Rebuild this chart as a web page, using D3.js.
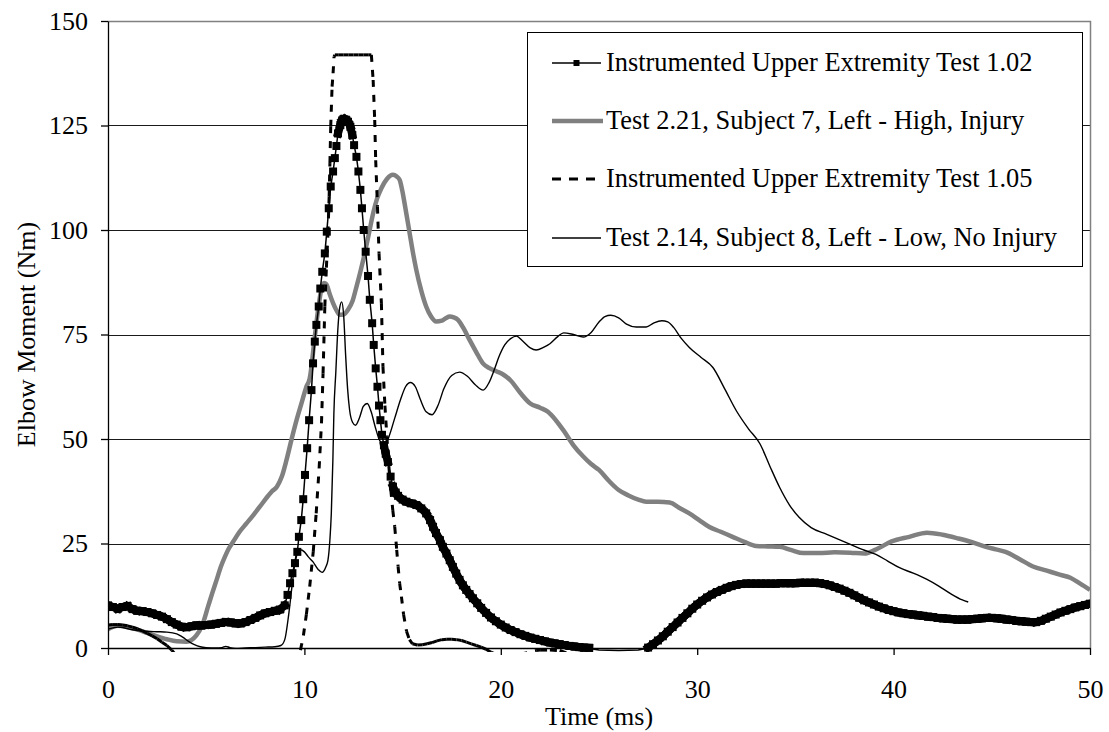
<!DOCTYPE html>
<html><head><meta charset="utf-8">
<script src="https://cdn.jsdelivr.net/npm/d3@7"></script>
<style>html,body{margin:0;padding:0;background:#fff;} svg{display:block;}</style>
</head><body>
<svg id="chart" width="1109" height="732"></svg>
<script>
// ---------- data ----------
const xTicks = [0, 10, 20, 30, 40, 50];
const yTicks = [0, 25, 50, 75, 100, 125, 150];
const xTitle = "Time (ms)";
const yTitle = "Elbow Moment (Nm)";
const seriesNames = [
  "Instrumented Upper Extremity Test 1.02",
  "Test 2.21, Subject 7, Left - High, Injury",
  "Instrumented Upper Extremity Test 1.05",
  "Test 2.14, Subject 8, Left - Low, No Injury"
];
// [time (ms), moment (Nm)]
const test102 = [[0,10.2],[0.25,9.8],[0.5,9.4],[0.75,9.8],[1,10.0],[1.25,9.3],[1.5,8.9],[1.75,8.8],[2,8.6],[2.25,8.3],[2.5,7.9],[2.75,7.5],[3,6.9],[3.25,6.2],[3.5,5.6],[3.75,5.1],[4,5.0],[4.25,5.2],[4.5,5.4],[4.75,5.4],[5,5.5],[5.25,5.6],[5.5,5.8],[5.75,6.0],[6,6.2],[6.25,6.1],[6.5,5.9],[6.75,5.9],[7,6.2],[7.25,6.7],[7.5,7.2],[7.75,7.8],[8,8.3],[8.25,8.6],[8.5,8.9],[8.75,9.2],[9,10.2],[9.14,12.7],[9.27,15.5],[9.39,17.9],[9.52,20.3],[9.64,23],[9.72,26.6],[9.84,30.6],[9.94,35.6],[10.03,41.4],[10.14,47.8],[10.24,54.5],[10.36,61.7],[10.44,68.1],[10.53,73.3],[10.61,77.3],[10.73,81.7],[10.81,86],[10.91,90],[11.04,94.4],[11.14,99.6],[11.24,105.2],[11.34,110.4],[11.46,114],[11.55,117.2],[11.63,120.1],[11.71,123.1],[11.83,125.1],[11.92,126.2],[12,126.5],[12.1,126.4],[12.22,125.9],[12.34,124.7],[12.44,122.7],[12.53,120.3],[12.65,117.5],[12.75,114],[12.85,109.6],[12.93,105.2],[13.02,100],[13.12,94.8],[13.24,89],[13.33,83.3],[13.45,77.7],[13.53,72.5],[13.63,66.9],[13.72,62.5],[13.8,58],[13.87,54.5],[13.95,51],[14.05,48.5],[14.14,46.5],[14.25,44.5],[14.39,41],[14.51,38.6],[14.65,37.2],[14.77,36.4],[15,35.5],[15.19,35],[15.45,34.6],[15.7,34.2],[15.95,33.4],[16.2,32.2],[16.4,30.6],[16.55,29],[16.7,27.5],[16.9,25.8],[17.05,24.2],[17.23,22.6],[17.4,21],[17.56,19.4],[17.73,17.8],[17.9,16.3],[18.07,15],[18.24,13.9],[18.41,12.9],[18.58,11.9],[18.8,10.7],[19,9.6],[19.25,8.4],[19.5,7.3],[19.75,6.4],[20,5.6],[20.25,4.9],[20.5,4.3],[20.75,3.8],[21,3.3],[21.25,2.9],[21.5,2.5],[21.75,2.2],[22,1.9],[22.25,1.6],[22.5,1.3],[22.75,1.1],[23,0.9],[23.25,0.7],[23.5,0.5],[23.75,0.35],[24,0.2],[24.25,0.1],[24.5,0.05],[24.75,-0.3],[25,-0.5],[26,-0.6],[27,-0.5],[27.4,-0.1],[27.5,0.1],[27.75,0.9],[28,1.8],[28.25,2.8],[28.5,3.9],[28.75,5.0],[29,6.1],[29.25,7.2],[29.5,8.3],[29.75,9.4],[30,10.4],[30.25,11.3],[30.5,12.1],[30.75,12.8],[31,13.4],[31.25,13.9],[31.5,14.4],[31.75,14.8],[32,15.1],[32.25,15.3],[32.5,15.4],[32.75,15.4],[33,15.4],[33.25,15.4],[33.5,15.4],[33.75,15.4],[34,15.4],[34.25,15.5],[34.5,15.5],[34.75,15.5],[35,15.5],[35.25,15.6],[35.5,15.6],[35.75,15.6],[36,15.6],[36.25,15.5],[36.5,15.3],[36.75,15.0],[37,14.6],[37.25,14.2],[37.5,13.7],[37.75,13.2],[38,12.6],[38.25,12.0],[38.5,11.4],[38.75,10.9],[39,10.4],[39.25,9.9],[39.5,9.5],[39.75,9.1],[40,8.8],[40.25,8.5],[40.5,8.3],[40.75,8.1],[41,8.0],[41.25,7.8],[41.5,7.7],[41.75,7.5],[42,7.4],[42.25,7.2],[42.5,7.1],[42.75,7.0],[43,6.9],[43.25,6.8],[43.5,6.8],[43.75,6.8],[44,6.9],[44.25,7.0],[44.5,7.1],[44.75,7.2],[45,7.2],[45.25,7.1],[45.5,7.0],[45.75,6.8],[46,6.7],[46.25,6.5],[46.5,6.4],[46.75,6.3],[47,6.2],[47.25,6.2],[47.5,6.5],[47.75,7.0],[48,7.5],[48.25,8.0],[48.5,8.5],[48.75,8.9],[49,9.3],[49.25,9.7],[49.5,10.0],[49.75,10.3],[50,10.6]];
const test221 = [[0,4.5],[0.5,5.3],[1,5.0],[1.5,4.4],[2,3.6],[2.5,2.8],[3,2.1],[3.5,1.6],[4,1.5],[4.5,3.0],[4.8,5.5],[5.1,10],[5.3,13],[5.53,16.3],[5.75,19.5],[5.95,21.8],[6.15,23.8],[6.37,25.4],[6.7,27.8],[7.05,29.8],[7.4,31.8],[7.73,33.8],[8.05,35.8],[8.33,37.4],[8.6,38.6],[8.85,41],[9.09,45],[9.34,49.8],[9.6,54.5],[9.85,58.5],[10.1,62.5],[10.27,64.5],[10.53,74.5],[10.7,81],[10.87,86],[11,87.3],[11.12,87],[11.3,84.5],[11.46,82.5],[11.63,80.8],[11.8,79.7],[12,79.8],[12.22,80.9],[12.45,83],[12.65,86.4],[12.85,90],[13.07,94.4],[13.3,99.5],[13.5,104],[13.7,107.5],[13.92,110],[14.2,112.2],[14.51,113.2],[14.7,112.8],[14.85,112],[14.98,109.5],[15.1,106.4],[15.36,99.2],[15.55,94],[15.7,90.4],[15.95,85.5],[16.2,81.7],[16.45,79.3],[16.71,78.1],[17,78.3],[17.2,78.9],[17.4,79.3],[17.6,79.1],[17.82,78.5],[18.1,76.5],[18.41,73.7],[18.75,70.8],[19.09,68.1],[19.4,67],[19.77,66.2],[20.1,65.5],[20.5,64],[21,61],[21.5,58.5],[22,57.5],[22.4,56.5],[22.8,54.5],[23.2,52],[23.7,48.5],[24.2,45.8],[24.6,44],[25,42.6],[25.5,40],[26,37.8],[26.5,36.5],[27,35.5],[27.4,35],[28,35],[28.6,34.8],[29.1,33.5],[29.6,32.2],[30.1,30.6],[30.6,29],[31.2,27.8],[31.8,26.6],[32.4,25.4],[33,24.4],[33.6,24.3],[34.2,24.2],[34.8,23.4],[35.4,22.7],[36.2,22.7],[37,22.9],[37.8,22.8],[38.5,22.6],[39.2,23.8],[39.9,25.5],[40.8,26.6],[41.7,27.6],[42.5,27.1],[43.3,26.2],[44,25.3],[44.7,24.2],[45.2,23.6],[45.7,23.0],[46.4,21.3],[47.1,19.5],[47.8,18.5],[48.5,17.5],[49,16.8],[49.5,15.4],[50,13.9]];
const test105 = [[0,5.5],[0.25,5.6],[0.5,5.6],[0.75,5.5],[1,5.3],[1.25,5.0],[1.5,4.6],[1.75,4.1],[2,3.5],[2.25,2.9],[2.5,2.2],[2.75,1.4],[3,0.6],[3.25,-0.5],[3.5,-2],[4,-4],[6,-6],[8,-5],[9.5,-3],[9.8,-0.5],[9.95,3],[10.1,8],[10.27,14.7],[10.45,23],[10.6,32.2],[10.75,43],[10.87,53.8],[10.95,65.7],[11.04,81.7],[11.12,91],[11.2,99.2],[11.26,108],[11.3,116],[11.34,124.7],[11.41,134.3],[11.46,137.5],[11.51,141.5],[11.55,141.9],[11.75,141.9],[12,141.9],[12.25,141.9],[12.5,141.9],[12.75,141.9],[13,141.9],[13.25,141.9],[13.41,141.9],[13.5,135.9],[13.58,126.3],[13.63,116.7],[13.72,105.6],[13.8,94.4],[13.92,82.5],[14,67.3],[14.1,58],[14.2,50.5],[14.3,43.5],[14.4,37.8],[14.5,33],[14.6,29],[14.7,23.5],[14.77,19.5],[14.85,15.5],[14.94,12.3],[15.05,8],[15.2,4],[15.35,2],[15.5,1],[15.75,0.7],[16,0.8],[16.25,1],[16.5,1.3],[16.75,1.7],[17,2.0],[17.25,2.1],[17.5,2.1],[17.75,2.0],[18,1.8],[18.25,1.4],[18.5,1.0],[18.75,0.6],[19,0.2],[19.25,-0.3],[19.5,-1],[20,-2],[21,-1.5],[21.8,-0.6],[22,-0.5],[22.5,-0.5],[23,-0.6],[23.5,-1.5],[24,-3],[30,-5],[40,-5],[50,-5]];
const test214 = [[0,4.5],[0.25,4.8],[0.5,5.0],[0.75,4.9],[1,4.6],[1.5,4.2],[2,4.0],[2.5,3.9],[3,3.8],[3.5,3.4],[3.8,2.6],[4.1,1.6],[4.4,0.8],[4.7,0.3],[5,0.1],[5.5,0.0],[5.8,0.1],[6,0.4],[6.2,0.1],[6.5,-0.1],[7,0.0],[7.5,0.1],[8,0.2],[8.5,0.3],[8.8,0.6],[9,2],[9.2,8],[9.4,16],[9.6,22.6],[9.8,23.5],[10,23.0],[10.2,21.8],[10.44,20.6],[10.7,18.8],[10.9,18.1],[11.1,19.5],[11.2,21.0],[11.3,26],[11.37,32.2],[11.45,45],[11.5,56],[11.6,66],[11.7,76],[11.8,81.5],[11.9,82.8],[12,79.5],[12.1,70],[12.2,62],[12.3,57],[12.45,54],[12.6,53.3],[12.8,55],[13,57.8],[13.2,58.5],[13.4,56.5],[13.6,53],[13.85,49.5],[14.1,48.6],[14.3,50.5],[14.6,55],[14.9,59.5],[15.15,62.5],[15.4,63.5],[15.65,62.5],[15.9,59.5],[16.2,56.5],[16.5,55.8],[16.8,58],[17.1,62],[17.5,65.2],[17.9,66],[18.3,65],[18.7,63],[19.1,61.7],[19.4,63.5],[19.7,67],[19.9,69.6],[20.2,72.5],[20.5,74],[20.8,74.6],[21.1,73.5],[21.5,71.8],[21.8,71.3],[22.2,72],[22.5,72.8],[22.9,74.5],[23.2,75.4],[23.7,75],[24.2,74.4],[24.6,75.5],[25,78],[25.3,79.3],[25.6,79.6],[26,79],[26.4,77.5],[26.9,76.8],[27.4,76.8],[27.8,77.8],[28.2,78.3],[28.5,78],[28.8,76.7],[29.2,74],[29.6,71.9],[30.2,69.5],[30.8,67.1],[31.4,62],[32,56.7],[32.6,52.5],[33.2,48.8],[33.7,43.5],[34.2,38.4],[34.7,34.2],[35.2,31.2],[35.8,28.8],[36.6,27.2],[37.2,26],[37.8,24.8],[38.4,23.6],[39.1,22.4],[39.7,20.8],[40.3,19.2],[41,17.9],[41.7,16.4],[42.3,14.8],[42.9,13],[43.5,11.5],[43.8,11.0]];

// ---------- chart ----------
const FONT = '"Liberation Serif","Times New Roman",Times,serif';
const FS = 26;
const svg = d3.select('#chart');
svg.append('rect').attr('width',1109).attr('height',732).attr('fill','#fff');

const x = d3.scaleLinear().domain([0,50]).range([108,1090]);
const y = d3.scaleLinear().domain([0,150]).range([648,21]);

// gridlines
svg.append('g').selectAll('line')
  .data(yTicks.filter(v => v > 0 && v < 150)).join('line')
  .attr('x1', x(0)).attr('x2', x(50))
  .attr('y1', d => Math.round(y(d)) + 0.5).attr('y2', d => Math.round(y(d)) + 0.5)
  .attr('stroke', '#1a1a1a').attr('stroke-width', 1);

// plot border (top & right)
svg.append('path')
  .attr('d', `M${x(0)},${Math.round(y(150))+0.5}H${Math.round(x(50))+0.5}V${y(0)}`)
  .attr('fill','none').attr('stroke','#808080').attr('stroke-width',1.5);

// clip
svg.append('defs').append('clipPath').attr('id','plotclip')
  .append('rect').attr('x', x(0)).attr('y', y(150))
  .attr('width', x(50) - x(0)).attr('height', y(0) - y(150) + 4);

const g = svg.append('g').attr('clip-path','url(#plotclip)');
const lineLin = d3.line().x(d => x(d[0])).y(d => y(d[1]));
const lineSmooth = d3.line().x(d => x(d[0])).y(d => y(d[1])).curve(d3.curveMonotoneX);

// series 2 (gray thick)
g.append('path').datum(test221).attr('d', lineSmooth)
  .attr('fill','none').attr('stroke','#808080').attr('stroke-width',4.5).attr('stroke-linejoin','round');
// series 3 (dashed; pattern restarts per segment like the original)
g.append('g').selectAll('path').data(d3.pairs(test105)).join('path')
  .attr('d', d => lineLin(d))
  .attr('fill','none').attr('stroke','#000').attr('stroke-width',3).attr('stroke-dasharray','7,8');
// series 4 (thin black)
g.append('path').datum(test214).attr('d', lineSmooth)
  .attr('fill','none').attr('stroke','#000').attr('stroke-width',1.4);
// series 1 (line + square markers)
const MS = 8;
const s1vis = test102.filter(d => d[1] >= 0);
g.append('path').datum(test102).attr('d', lineLin)
  .attr('fill','none').attr('stroke','#000').attr('stroke-width',1.5);
// where consecutive markers overlap they merge into a solid band
const s1dense = d3.pairs(s1vis).filter(([a, b]) =>
  Math.hypot(x(b[0]) - x(a[0]), y(b[1]) - y(a[1])) < 9.5);
g.append('g').selectAll('path').data(s1dense).join('path')
  .attr('d', d => lineLin(d))
  .attr('fill','none').attr('stroke','#000').attr('stroke-width',MS).attr('stroke-linecap','square');
g.append('g').selectAll('rect').data(s1vis).join('rect')
  .attr('x', d => x(d[0]) - MS/2).attr('y', d => y(d[1]) - MS/2)
  .attr('width', MS).attr('height', MS).attr('fill','#000');

// axes
const xAxis = svg.append('g').attr('transform', `translate(0,${y(0)})`)
  .call(d3.axisBottom(x).tickValues(xTicks).tickSize(7).tickSizeOuter(0).tickPadding(25).tickFormat(d3.format('d')));
const yAxis = svg.append('g').attr('transform', `translate(${x(0)},0)`)
  .call(d3.axisLeft(y).tickValues(yTicks).tickSize(7).tickSizeOuter(0).tickPadding(13).tickFormat(d3.format('d')));
[xAxis, yAxis].forEach(a => {
  a.selectAll('path.domain').attr('stroke','#000').attr('stroke-width',1.3);
  a.selectAll('.tick line').attr('stroke','#000').attr('stroke-width',1.3);
  a.selectAll('text').attr('font-family', FONT).attr('font-size', FS).attr('fill','#000');
});

// axis titles
svg.append('text').attr('x', (x(0)+x(50))/2).attr('y', 725)
  .attr('text-anchor','middle').attr('font-family',FONT).attr('font-size',FS).text(xTitle);
svg.append('text').attr('transform', `translate(35,${(y(0)+y(150))/2}) rotate(-90)`)
  .attr('text-anchor','middle').attr('font-family',FONT).attr('font-size',FS).text(yTitle);

// legend
const LFS = 26.4;
const lg = svg.append('g');
lg.append('rect').attr('x',527.5).attr('y',32.5).attr('width',555).attr('height',234)
  .attr('fill','#fff').attr('stroke','#000').attr('stroke-width',1);
const rowBase = [71, 129, 187, 246];
const sx0 = 552, sx1 = 601;
seriesNames.forEach((name, i) => {
  const ly = rowBase[i] - 8;
  const row = lg.append('g');
  if (i === 0) {
    row.append('line').attr('x1',sx0).attr('x2',sx1).attr('y1',ly).attr('y2',ly).attr('stroke','#000').attr('stroke-width',1.5);
    row.append('rect').attr('x',(sx0+sx1)/2-3).attr('y',ly-3).attr('width',6).attr('height',6).attr('fill','#000');
  } else if (i === 1) {
    row.append('line').attr('x1',sx0).attr('x2',sx1+2).attr('y1',ly).attr('y2',ly).attr('stroke','#808080').attr('stroke-width',4.5);
  } else if (i === 2) {
    row.append('line').attr('x1',sx0).attr('x2',sx1).attr('y1',ly).attr('y2',ly).attr('stroke','#000').attr('stroke-width',3).attr('stroke-dasharray','9,8');
  } else {
    row.append('line').attr('x1',sx0).attr('x2',sx1).attr('y1',ly).attr('y2',ly).attr('stroke','#000').attr('stroke-width',1.4);
  }
  row.append('text').attr('x',606).attr('y',rowBase[i]).attr('font-family',FONT).attr('font-size',LFS).text(name);
});
</script>
</body></html>
